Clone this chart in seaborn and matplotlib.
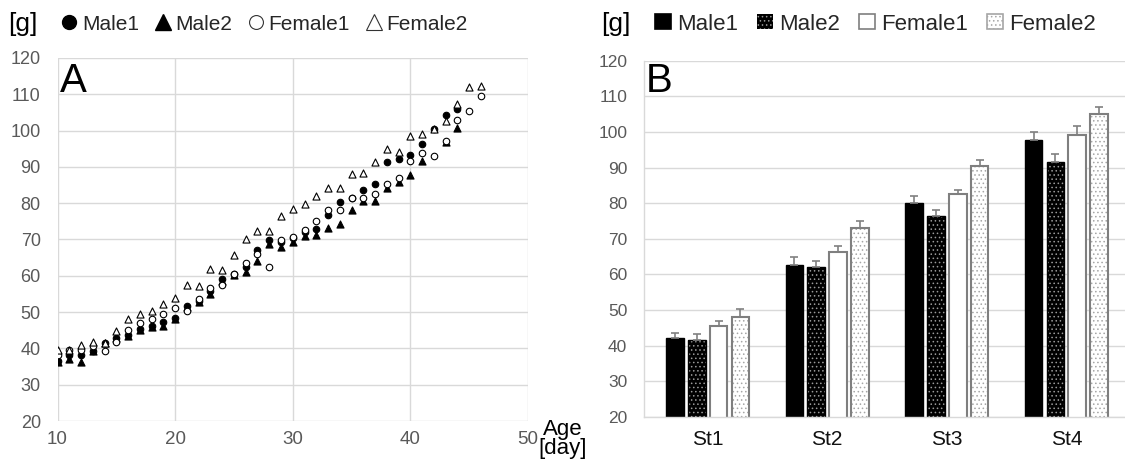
import numpy as np
import pandas as pd
import matplotlib
matplotlib.use("Agg")
import matplotlib.pyplot as plt
import seaborn as sns
from matplotlib.patches import Rectangle
from matplotlib.lines import Line2D

# ---------------- data ----------------
days = list(range(10, 47))
nan = float("nan")
male1 = [36.4, 38.3, 38.3, 39.3, 41.6, 43.0, 43.8, 45.3, 46.3, 47.4, 48.4, 51.8, 53.0, 55.7,
         59.0, 60.5, 62.3, 67.2, 69.8, 69.4, 70.4, 72.0, 72.8, 76.8, 80.3, 81.4, 83.5, 85.2,
         91.3, 92.1, 93.3, 96.2, 100.4, 104.4, 106.0, nan, nan]
male2 = [36.3, 37.2, 36.2, 39.2, 41.4, 42.8, 43.5, 45.0, 45.8, 46.3, 48.2, 51.5, 52.7, 55.1,
         58.5, 60.3, 61.0, 64.1, 68.8, 68.0, 69.2, 70.9, 71.2, 73.1, 74.3, 78.2, 80.6, 80.7,
         84.3, 85.9, 87.9, 91.6, nan, 96.8, 100.6, nan, nan]
female1 = [38.1, 39.5, 39.6, 40.7, 39.2, 41.9, 45.1, 47.1, 48.0, 49.6, 51.1, 50.4, 53.6, 56.7,
           57.6, 60.6, 63.4, 66.0, 62.5, 69.8, 70.8, 72.7, 75.2, 78.0, 78.0, 81.5, 81.5, 82.4,
           85.2, 87.0, 91.7, 93.9, 93.0, 97.1, 103.0, 105.5, 109.5]
female2 = [39.5, 39.6, 40.8, 41.8, 41.6, 44.9, 48.0, 49.4, 50.2, 52.1, 53.8, 57.5, 57.2, 61.8,
           61.5, 65.8, 70.0, 72.3, 72.3, 76.5, 78.5, 79.7, 81.9, 84.3, 84.3, 88.0, 88.4, 91.4,
           94.9, 94.2, 98.5, 99.2, 100.5, 102.7, 107.4, 111.9, 112.3]

series = ["Male1", "Male2", "Female1", "Female2"]
stages = ["St1", "St2", "St3", "St4"]
bar_m1 = [42.1, 62.8, 80.0, 97.8]
bar_m2 = [41.7, 62.0, 76.5, 91.7]
bar_f1 = [45.5, 66.2, 82.5, 99.2]
bar_f2 = [48.2, 73.0, 90.5, 105.0]
err_m1 = [1.4, 2.1, 1.9, 2.3]
err_m2 = [1.5, 1.7, 1.6, 2.1]
err_f1 = [1.5, 1.9, 1.2, 2.6]
err_f2 = [2.0, 2.0, 1.6, 2.1]

# ---------------- style ----------------
sns.set_theme(style="white")
plt.rcParams["font.family"] = ["Liberation Sans", "DejaVu Sans"]
plt.rcParams["hatch.linewidth"] = 0.6

GRID = "#d9d9d9"
TICK = "#595959"

fig = plt.figure(figsize=(11.25, 4.61), dpi=100)
axA = fig.add_axes([57.5 / 1125, 1 - 421 / 461, 470.5 / 1125, (421 - 58) / 461])
axB = fig.add_axes([644 / 1125, 1 - 417 / 461, 486 / 1125, (417 - 60.7) / 461])

# ---------------- panel A: scatter ----------------
sc_df = pd.DataFrame({"day": days, "Male1": male1, "Male2": male2,
                      "Female1": female1, "Female2": female2})
styles = {
    "Male1": dict(marker="o", color="black", s=22),
    "Male2": dict(marker="^", color="black", s=26),
    "Female1": dict(marker="o", color="white", s=22),
    "Female2": dict(marker="^", color="white", s=26),
}
for name in series:
    st = styles[name]
    sns.scatterplot(data=sc_df, x="day", y=name, ax=axA, marker=st["marker"],
                    color=st["color"], edgecolor="black", linewidth=0.8, s=st["s"],
                    label=name, zorder=3, legend=False)

axA.set_xlim(10, 50)
axA.set_ylim(20, 120)
axA.set_xticks(range(10, 51, 10))
axA.set_yticks(range(20, 121, 10))
axA.grid(True, color=GRID, lw=1)
axA.set_axisbelow(True)
for sp in axA.spines.values():
    sp.set_visible(False)
axA.tick_params(axis="both", length=0, labelcolor=TICK)
axA.tick_params(axis="x", labelsize=13.5, pad=7)
axA.tick_params(axis="y", labelsize=13, pad=12)
axA.set_xlabel("")
axA.set_ylabel("")

handlesA = [
    Line2D([], [], ls="", marker="o", markersize=10, markerfacecolor="black", markeredgecolor="black"),
    Line2D([], [], ls="", marker="^", markersize=11, markerfacecolor="black", markeredgecolor="black"),
    Line2D([], [], ls="", marker="o", markersize=10, markerfacecolor="white", markeredgecolor="#333333", markeredgewidth=0.8),
    Line2D([], [], ls="", marker="^", markersize=11, markerfacecolor="white", markeredgecolor="#333333", markeredgewidth=0.8),
]
fig.legend(handlesA, series, loc="center left", bbox_to_anchor=(60 / 1125, 1 - 24 / 461),
           ncol=4, frameon=False, fontsize=15, handlelength=0.9, handletextpad=0.15,
           columnspacing=0.7, borderpad=0, borderaxespad=0)
fig.text(8 / 1125, 1 - 24 / 461, "[g]", fontsize=19, va="center", ha="left", color="black")
fig.text(60 / 1125, 1 - 92 / 461, "A", fontsize=29, va="baseline", ha="left", color="black")
fig.text(563 / 1125, 1 - 459 / 461, "Age\n[day]", fontsize=16, va="bottom", ha="center",
         linespacing=0.85, color="black")

# ---------------- panel B: bars ----------------
bar_df = pd.DataFrame({
    "stage": stages * 4,
    "sex": [s for s in series for _ in stages],
    "value": bar_m1 + bar_m2 + bar_f1 + bar_f2,
})
errs = {"Male1": err_m1, "Male2": err_m2, "Female1": err_f1, "Female2": err_f2}
pal = {"Male1": "black", "Male2": "black", "Female1": "white", "Female2": "white"}
sns.barplot(data=bar_df, x="stage", y="value", hue="sex", hue_order=series, order=stages,
            palette=pal, saturation=1, width=0.73, gap=0.19, errorbar=None, legend=False,
            ax=axB, zorder=2)

bstyle = {
    "Male1": dict(hatch=None, hatchcol=None, edge="black", lw=1.0),
    "Male2": dict(hatch="....", hatchcol="#9a9a9a", edge="black", lw=1.0),
    "Female1": dict(hatch=None, hatchcol=None, edge="#7f7f7f", lw=1.5),
    "Female2": dict(hatch="....", hatchcol="#a6a6a6", edge="#7f7f7f", lw=1.5),
}
for name, cont in zip(series, axB.containers):
    st = bstyle[name]
    for p, e in zip(cont.patches, errs[name]):
        x0, w, h = p.get_x(), p.get_width(), p.get_height()
        if st["hatch"]:
            p.set_hatch(st["hatch"])
            p.set_edgecolor(st["hatchcol"])
            p.set_linewidth(0)
            axB.add_patch(Rectangle((x0, 0), w, h, fill=False, edgecolor=st["edge"],
                                    lw=st["lw"], zorder=2.5))
        else:
            p.set_edgecolor(st["edge"])
            p.set_linewidth(st["lw"])
        axB.errorbar(x0 + w / 2, h, yerr=[[0], [e]], fmt="none", ecolor="#808080",
                     elinewidth=1.2, capsize=3, capthick=1.2, zorder=3)

axB.set_ylim(20, 120)
axB.set_yticks(range(20, 121, 10))
axB.grid(True, axis="y", color=GRID, lw=1)
axB.grid(False, axis="x")
axB.set_axisbelow(True)
for k, sp in axB.spines.items():
    sp.set_visible(k in ("left", "bottom"))
    sp.set_color(GRID)
    sp.set_linewidth(1)
axB.tick_params(axis="both", length=0)
axB.tick_params(axis="y", labelsize=12.5, labelcolor=TICK, pad=12)
axB.tick_params(axis="x", labelsize=15, labelcolor="#111111", pad=9)
axB.set_xlabel("")
axB.set_ylabel("")

handlesB = []
for name in series:
    st = bstyle[name]
    if st["hatch"]:
        handlesB.append(Rectangle((0, 0), 1, 1, facecolor=pal[name], hatch=st["hatch"],
                                  edgecolor=st["hatchcol"], lw=0 if name == "Male2" else 1.2))
    else:
        handlesB.append(Rectangle((0, 0), 1, 1, facecolor=pal[name], edgecolor=st["edge"], lw=1.2))
fig.legend(handlesB, series, loc="center left", bbox_to_anchor=(655 / 1125, 1 - 24 / 461),
           ncol=4, frameon=False, fontsize=16, handlelength=0.7, handleheight=0.7,
           handletextpad=0.3, columnspacing=0.85, borderpad=0, borderaxespad=0)
fig.text(601 / 1125, 1 - 24 / 461, "[g]", fontsize=19, va="center", ha="left", color="black")
fig.text(646 / 1125, 1 - 92 / 461, "B", fontsize=29, va="baseline", ha="left", color="black")

fig.savefig("out.png", dpi=100, facecolor="white")
